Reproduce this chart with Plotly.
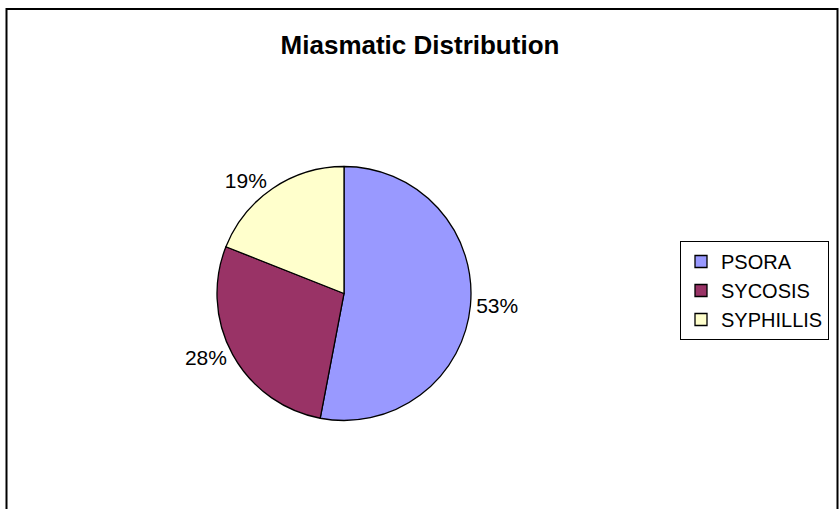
import plotly.graph_objects as go

# Miasm categories and their share of cases (%)
categories = ["PSORA", "SYCOSIS", "SYPHILLIS"]
shares = [53, 28, 19]
slice_colors = ["#9999FF", "#993366", "#FFFFCC"]

W, H = 840, 509
cx, cy, r = 344, 293.5, 127  # pie centre and radius in pixels

fig = go.Figure(
    go.Pie(
        labels=categories,
        values=shares,
        sort=False,
        direction="clockwise",
        rotation=0,
        marker=dict(colors=slice_colors, line=dict(color="black", width=1.3)),
        textinfo="percent",
        texttemplate="%{percent:.0%}",
        textposition="outside",
        outsidetextfont=dict(family="Arial, Liberation Sans", size=21, color="black"),
        domain=dict(
            x=[(cx - r) / W, (cx + r) / W],
            y=[(H - cy - r) / H, (H - cy + r) / H],
        ),
        showlegend=True,
    )
)

fig.update_layout(
    width=W,
    height=H,
    margin=dict(l=0, r=0, t=0, b=0),
    paper_bgcolor="white",
    plot_bgcolor="white",
    font=dict(family="Arial, Liberation Sans", color="black"),
    title=dict(
        text="<b>Miasmatic Distribution</b>",
        x=0.5,
        xanchor="center",
        y=1 - 45 / H,
        yanchor="middle",
        font=dict(family="Arial, Liberation Sans", size=26, color="black"),
    ),
    legend=dict(
        x=680 / W,
        xanchor="left",
        y=1 - 241 / H,
        yanchor="top",
        bordercolor="black",
        borderwidth=1,
        bgcolor="white",
        font=dict(family="Arial, Liberation Sans", size=20, color="black"),
        traceorder="normal",
    ),
    shapes=[
        dict(
            type="rect",
            xref="paper",
            yref="paper",
            x0=6.5 / W,
            x1=837.5 / W,
            y0=-0.05,
            y1=1 - 9 / H,
            line=dict(color="black", width=2),
            fillcolor="rgba(0,0,0,0)",
        )
    ],
)

fig.write_html("out.html")
